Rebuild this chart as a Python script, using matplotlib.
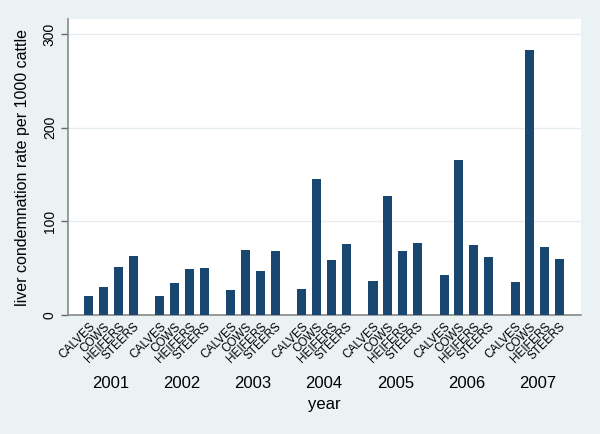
import matplotlib.pyplot as plt
import matplotlib.transforms as mtransforms
import numpy as np

plt.rcParams['font.family'] = ['Liberation Sans', 'DejaVu Sans']

years = ["2001", "2002", "2003", "2004", "2005", "2006", "2007"]
classes = ["CALVES", "COWS", "HEIFERS", "STEERS"]
calves = [20.5, 20, 26.7, 28, 36.4, 42.4, 35.3]
cows = [30.3, 33.8, 69.2, 145, 126.6, 165.2, 283]
heifers = [51.7, 48.8, 47.4, 59.2, 68.8, 74.5, 72.8]
steers = [62.8, 50.3, 68.1, 76.3, 77.1, 62.1, 60]

navy = "#1a476f"
bg = "#eaf2f3"

fig = plt.figure(figsize=(6, 4.34), dpi=100, facecolor=bg)
ax = fig.add_axes([68 / 600, 1 - 315 / 434, (581 - 68) / 600, (315 - 19) / 434])
ax.set_facecolor("white")

group_step = 4.8
pos, vals, labs = [], [], []
for i in range(len(years)):
    for j, series in enumerate([calves, cows, heifers, steers]):
        pos.append(i * group_step + j)
        vals.append(series[i])
        labs.append(classes[j])

ax.bar(pos, vals, width=0.61, color=navy, zorder=3)
ax.set_xlim(-1.4, (len(years) - 1) * group_step + 3 + 1.45)
ax.set_ylim(0, 316)

ax.set_yticks([0, 100, 200, 300])
ax.set_yticklabels(["0", "100", "200", "300"], rotation=90, va="center", fontsize=10)
ax.grid(axis="y", color="#e4ecf0", linewidth=1, zorder=0)
ax.set_ylabel("liver condemnation rate per 1000 cattle", fontsize=11.5, labelpad=9)

ax.set_xticks(pos)
ax.set_xticklabels(labs, rotation=45, ha="right", rotation_mode="anchor", fontsize=8.5)
ax.tick_params(axis="x", length=0, pad=4)
ax.tick_params(axis="y", length=5, width=1, color="#666666", pad=3)

for s in ["top", "right"]:
    ax.spines[s].set_visible(False)
for s in ["left", "bottom"]:
    ax.spines[s].set_color("#888888")
    ax.spines[s].set_linewidth(1.2)

trans = mtransforms.blended_transform_factory(ax.transData, fig.transFigure)
for i, y in enumerate(years):
    ax.text(i * group_step + 1.5, 1 - 383 / 434, y, transform=trans,
            ha="center", va="center", fontsize=12)
fig.text((68 + 581) / 2 / 600, 1 - 405 / 434, "year", ha="center", va="center", fontsize=12)

fig.savefig("out.png", dpi=100, facecolor=bg)
